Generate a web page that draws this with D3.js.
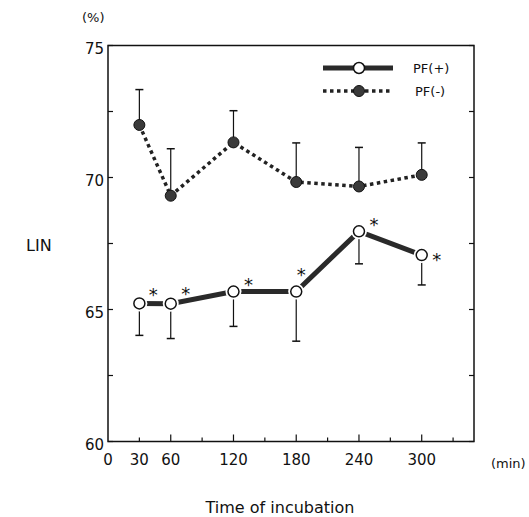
<!DOCTYPE html>
<html>
<head>
<meta charset="utf-8">
<script src="https://cdn.jsdelivr.net/npm/d3@7/dist/d3.min.js"></script>
<style>
body { margin: 0; background: #fff; }
text { font-family: "DejaVu Sans", sans-serif; fill: #111; }
</style>
</head>
<body>
<div id="chart"></div>
<script>
// incubation time (min)
var times = [30, 60, 120, 180, 240, 300];

// PF(+) mean and lower error bar end
var pfPlus = [65.23, 65.22, 65.68, 65.68, 67.96, 67.06];
var pfPlusLow = [64.02, 63.9, 64.36, 63.8, 66.73, 65.93];

// PF(-) mean and upper error bar end
var pfMinus = [71.99, 69.31, 71.33, 69.83, 69.66, 70.1];
var pfMinusHigh = [73.33, 71.09, 72.53, 71.31, 71.14, 71.31];

var xTickLabels = [0, 30, 60, 120, 180, 240, 300];
var yTickLabels = [60, 65, 70, 75];

var width = 529, height = 517;

var svg = d3.select("#chart").append("svg")
    .attr("width", width)
    .attr("height", height);

var x = d3.scaleLinear().domain([0, 350]).range([108, 474]);
var y = d3.scaleLinear().domain([60, 75]).range([441.5, 45.5]);

// frame
svg.append("rect")
    .attr("x", x(0)).attr("y", y(75))
    .attr("width", x(350) - x(0)).attr("height", y(60) - y(75))
    .attr("fill", "none").attr("stroke", "#111").attr("stroke-width", 1.5);

// y ticks, inward on both sides
var yTicks = d3.range(60, 75.1, 2.5);
svg.selectAll(".ytl").data(yTicks).enter().append("line")
    .attr("x1", x(0)).attr("x2", x(0) + 5)
    .attr("y1", function(d) { return y(d); }).attr("y2", function(d) { return y(d); })
    .attr("stroke", "#111").attr("stroke-width", 1.2);
svg.selectAll(".ytr").data(yTicks).enter().append("line")
    .attr("x1", x(350)).attr("x2", x(350) - 5)
    .attr("y1", function(d) { return y(d); }).attr("y2", function(d) { return y(d); })
    .attr("stroke", "#111").attr("stroke-width", 1.2);

// x ticks, inward
var xTicks = d3.range(30, 331, 30);
svg.selectAll(".xt").data(xTicks).enter().append("line")
    .attr("x1", function(d) { return x(d); }).attr("x2", function(d) { return x(d); })
    .attr("y1", y(60)).attr("y2", function(d) { return y(60) - (d % 60 === 0 ? 7 : 4); })
    .attr("stroke", "#111").attr("stroke-width", 1.2);

svg.selectAll(".xl").data(xTickLabels).enter().append("text")
    .attr("x", function(d) { return x(d); })
    .attr("y", 465)
    .attr("text-anchor", "middle")
    .attr("font-size", 15)
    .text(function(d) { return d; });

svg.selectAll(".yl").data(yTickLabels).enter().append("text")
    .attr("x", 104)
    .attr("y", function(d) { return y(d) + 8; })
    .attr("text-anchor", "end")
    .attr("font-size", 15)
    .text(function(d) { return d; });

svg.append("text").attr("x", 491).attr("y", 468).attr("font-size", 13).text("(min)");
svg.append("text").attr("x", 82).attr("y", 22).attr("font-size", 13).text("(%)");
svg.append("text").attr("x", 26).attr("y", 251).attr("font-size", 16).text("LIN");
svg.append("text").attr("x", 280).attr("y", 513).attr("text-anchor", "middle")
    .attr("font-size", 16).text("Time of incubation");

var line = d3.line()
    .x(function(d) { return x(d[0]); })
    .y(function(d) { return y(d[1]); });

var plusPts = times.map(function(t, i) { return [t, pfPlus[i]]; });
var minusPts = times.map(function(t, i) { return [t, pfMinus[i]]; });

// error bars
function errBars(vals, ends) {
    times.forEach(function(t, i) {
        svg.append("line")
            .attr("x1", x(t)).attr("x2", x(t))
            .attr("y1", y(vals[i])).attr("y2", y(ends[i]))
            .attr("stroke", "#111").attr("stroke-width", 1.2);
        svg.append("line")
            .attr("x1", x(t) - 4).attr("x2", x(t) + 4)
            .attr("y1", y(ends[i])).attr("y2", y(ends[i]))
            .attr("stroke", "#111").attr("stroke-width", 1.5);
    });
}
errBars(pfMinus, pfMinusHigh);
errBars(pfPlus, pfPlusLow);

// PF(-) dotted line
svg.append("path").datum(minusPts)
    .attr("d", line)
    .attr("fill", "none").attr("stroke", "#222")
    .attr("stroke-width", 3.5)
    .attr("stroke-dasharray", "3.5,3.5");

// PF(+) thick line
svg.append("path").datum(plusPts)
    .attr("d", line)
    .attr("fill", "none").attr("stroke", "#2a2a2a")
    .attr("stroke-width", 5);

svg.selectAll(".mm").data(minusPts).enter().append("circle")
    .attr("cx", function(d) { return x(d[0]); })
    .attr("cy", function(d) { return y(d[1]); })
    .attr("r", 5.5)
    .attr("fill", "#3a3a3a").attr("stroke", "#111").attr("stroke-width", 1);

svg.selectAll(".ph").data(plusPts).enter().append("circle")
    .attr("cx", function(d) { return x(d[0]); })
    .attr("cy", function(d) { return y(d[1]); })
    .attr("r", 8)
    .attr("fill", "#fff");
svg.selectAll(".pm").data(plusPts).enter().append("circle")
    .attr("cx", function(d) { return x(d[0]); })
    .attr("cy", function(d) { return y(d[1]); })
    .attr("r", 5.5)
    .attr("fill", "#fff").attr("stroke", "#111").attr("stroke-width", 1.5);

// significance stars next to PF(+)
var starDx = [14, 15, 15, 5, 15, 15];
var starDy = [-13, -15, -12, -22, -11, 0];
times.forEach(function(t, i) {
    svg.append("text")
        .attr("x", x(t) + starDx[i])
        .attr("y", y(pfPlus[i]) + starDy[i] + 11)
        .attr("text-anchor", "middle")
        .attr("font-size", 18)
        .text("*");
});

// legend
var legend = svg.append("g");
legend.append("line")
    .attr("x1", 323).attr("x2", 393).attr("y1", 68).attr("y2", 68)
    .attr("stroke", "#2a2a2a").attr("stroke-width", 5);
legend.append("circle").attr("cx", 359).attr("cy", 68).attr("r", 5.5)
    .attr("fill", "#fff").attr("stroke", "#111").attr("stroke-width", 1.5);
legend.append("text").attr("x", 413).attr("y", 73).attr("font-size", 13).text("PF(+)");

legend.append("line")
    .attr("x1", 323).attr("x2", 390).attr("y1", 91).attr("y2", 91)
    .attr("stroke", "#222").attr("stroke-width", 3.5)
    .attr("stroke-dasharray", "3.5,3.5");
legend.append("circle").attr("cx", 359).attr("cy", 91).attr("r", 5.5)
    .attr("fill", "#3a3a3a").attr("stroke", "#111").attr("stroke-width", 1);
legend.append("text").attr("x", 415).attr("y", 96).attr("font-size", 13).text("PF(-)");
</script>
</body>
</html>
